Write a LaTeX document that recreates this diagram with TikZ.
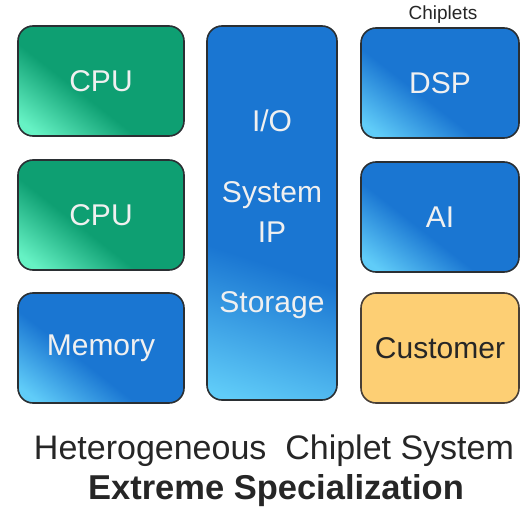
\documentclass[tikz,border=0pt]{standalone}
\usepackage{fontspec}
\setmainfont{Liberation Sans}
\usetikzlibrary{shadings}
\definecolor{greenmain}{HTML}{0E9F72}
\definecolor{greenlight}{HTML}{66F2C4}
\definecolor{bluemain}{HTML}{1A76D2}
\definecolor{bluelight}{HTML}{60CCF8}
\definecolor{custfill}{HTML}{FDCF74}
\definecolor{edge}{HTML}{2A2F33}
\definecolor{inktext}{HTML}{262626}
\pgfdeclareverticalshading{greenchip}{100bp}{color(0bp)=(greenlight); color(20bp)=(greenlight); color(42bp)=(greenmain); color(100bp)=(greenmain)}
\pgfdeclareverticalshading{bluechip}{100bp}{color(0bp)=(bluelight); color(20bp)=(bluelight); color(42bp)=(bluemain); color(100bp)=(bluemain)}
\tikzset{
  chip/.style={draw=edge, line width=1.6pt, rounded corners=15pt, inner sep=0pt,
    text=white!94!black, font=\fontsize{30}{32}\selectfont},
  greenbox/.style={chip, shading=greenchip, shading angle=-38},
  bluebox/.style={chip, shading=bluechip, shading angle=-38},
  custbox/.style={chip, fill=custfill, draw=edge!80!brown, text=inktext},
  coltext/.style={text=white!94!black, font=\fontsize{30}{32}\selectfont},
}
\begin{document}
\begin{tikzpicture}[x=1pt, y=-1pt]
\useasboundingbox (0,0) rectangle (522,511);
% left column
\node[greenbox, minimum width=166pt, minimum height=110pt] (cpu1) at (101,81) {CPU};
\node[greenbox, minimum width=166pt, minimum height=110pt] (cpu2) at (101,215) {CPU};
\node[bluebox, minimum width=166pt, minimum height=110pt] (mem) at (101,348) {Memory};
% centre column
\node[bluebox, shading angle=-18, minimum width=130pt, minimum height=374pt] (io) at (272,213) {};
\node[coltext] (iot) at (272,121) {I/O};
\node[coltext] (sys) at (272,195) {System};
\node[coltext] (ip) at (272,232) {IP};
\node[coltext] (sto) at (272,305) {Storage};
% right column
\node[font=\fontsize{19}{20}\selectfont, text=inktext] (lbl) at (443,15) {Chiplets};
\node[bluebox, minimum width=158pt, minimum height=110pt] (dsp) at (440,83) {DSP};
\node[bluebox, minimum width=158pt, minimum height=110pt] (ai) at (440,217) {AI};
\node[custbox, minimum width=158pt, minimum height=110pt] (cust) at (440,348) {Customer};
% caption
\node[font=\fontsize{34}{36}\selectfont, text=inktext] (t1) at (274,451) {Heterogeneous\ \ Chiplet System};
\node[font=\bfseries\fontsize{34.5}{36}\selectfont, text=inktext] (t2) at (276,491) {Extreme Specialization};
\end{tikzpicture}
\end{document}
